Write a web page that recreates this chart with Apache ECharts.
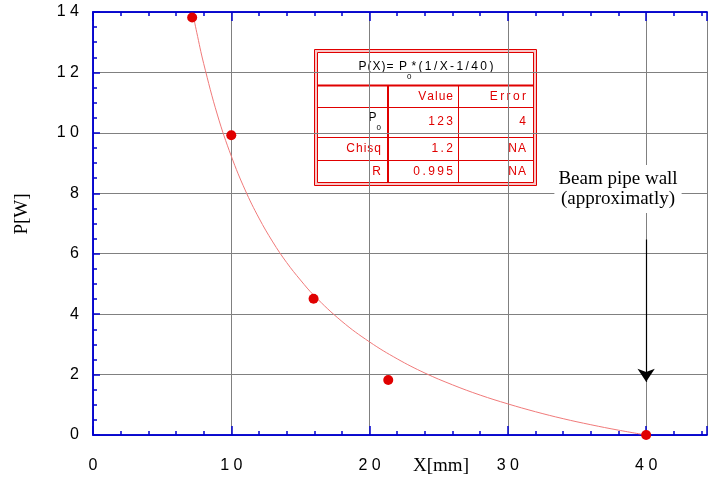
<!DOCTYPE html>
<html><head><meta charset="utf-8">
<script src="https://cdn.jsdelivr.net/npm/echarts@6/dist/echarts.min.js"></script>
<style>html,body{margin:0;padding:0;background:#fff}#c{width:710px;height:483px}</style>
</head><body><div id="c"></div>
<script>
// ---- data ----
const pointX = [7.17, 10.0, 15.95, 21.35, 40.0];
const pointY = [13.82, 9.92, 4.51, 1.82, 0.0];
const curveX = [7.25, 7.5, 8, 9, 10, 11, 12, 13, 14, 15, 16, 18, 20, 22, 24, 26, 28, 30, 32, 34, 36, 38, 40];
const curveY = [13.89, 13.33, 12.30, 10.59, 9.23, 8.11, 7.18, 6.39, 5.71, 5.13, 4.61, 3.76, 3.08, 2.52, 2.05, 1.66, 1.32, 1.03, 0.77, 0.54, 0.34, 0.16, 0];
const xTickValues = [0, 10, 20, 30, 40];
const xTickLabels = ['0', '10', '20', '30', '40'];
const yTickValues = [0, 2, 4, 6, 8, 10, 12, 14];
const yTickLabels = ['0', '2', '4', '6', '8', '10', '12', '14'];
const xName = 'X[mm]';
const yName = 'P[W]';
const fitTitleMain = 'P(X)= P';
const fitTitleSub = '0';
const fitTitleRest = '*(1/X-1/40)';
const tableHeader = ['', 'Value', 'Error'];
const tableRowNames = ['P', 'Chisq', 'R'];
const tableRowSubs = ['0', '', ''];
const tableValues = ['123', '1.2', '0.995'];
const tableErrors = ['4', 'NA', 'NA'];
const annotationText = ['Beam pipe wall', '(approximatly)'];
const arrowX = 40, arrowFromY = 6.47, arrowToY = 1.76;

// ---- styling ----
const BLUE = '#0000d0', GRID = '#808080', RED = '#e00000';
const SANS = '"Liberation Sans", Arial, sans-serif';
const SERIF = '"Liberation Serif", "Times New Roman", serif';
const GAP = ' ', THIN = '\u2009', HAIR = '\u200A';
const sp = (s, ch) => s.split('').join(ch);

const XMAX = 44.4;
function xAxisDef(pos, interval, tickLen, withLabels, split) {
  return {
    type: 'value', position: pos, min: 0, max: XMAX, interval: interval,
    axisLine: { show: true, onZero: false, lineStyle: { color: BLUE, width: 1.5 } },
    axisTick: { show: true, inside: true, length: tickLen, lineStyle: { color: BLUE, width: 1.5 } },
    axisLabel: withLabels ? {
      show: true, margin: 23, color: '#000', fontSize: 16, fontFamily: SANS,
      formatter: v => { const i = xTickValues.indexOf(v); return i >= 0 ? sp(xTickLabels[i], GAP) : ''; }
    } : { show: false },
    splitLine: { show: split, lineStyle: { color: GRID, width: 1 } }
  };
}
function yAxisDef(interval, tickLen, withLabels, split) {
  return {
    type: 'value', position: 'left', min: 0, max: 14, interval: interval,
    axisLine: { show: true, onZero: false, lineStyle: { color: BLUE, width: 1.5 } },
    axisTick: { show: true, inside: true, length: tickLen, lineStyle: { color: BLUE, width: 1.5 } },
    axisLabel: withLabels ? {
      show: true, margin: 14, color: '#000', fontSize: 16, fontFamily: SANS,
      formatter: v => { const i = yTickValues.indexOf(v); return i >= 0 ? sp(yTickLabels[i], GAP) : ''; }
    } : { show: false },
    splitLine: { show: split, lineStyle: { color: GRID, width: 1 } }
  };
}

// ---- fit table (graphic) ----
const T = { x0: 314, y0: 49, x1: 536, y1: 185 };
const rowY = [85.5, 107, 137.5, 160.5, 182];
const colX = [317, 388, 458, 533];
const tfont = '12px ' + SANS;
const richP = {
  a: { fontSize: 12, fontFamily: SANS, color: RED, padding: [0, 0, 10, 0] },
  s: { fontSize: 8, fontFamily: SANS, color: RED, padding: [10, 0, 0, 0] }
};
const tableEls = [
  { type: 'rect', shape: { x: T.x0 + 0.5, y: T.y0 + 0.5, width: T.x1 - T.x0, height: T.y1 - T.y0 }, style: { fill: '#f9c8c8', stroke: RED, lineWidth: 1 } },
  { type: 'rect', shape: { x: T.x0 + 3.5, y: T.y0 + 3.5, width: T.x1 - T.x0 - 6, height: T.y1 - T.y0 - 6 }, style: { fill: '#fff', stroke: RED, lineWidth: 1 } },
  { type: 'line', shape: { x1: colX[0], y1: rowY[0], x2: colX[3], y2: rowY[0] }, style: { stroke: RED, lineWidth: 2 } },
  { type: 'line', shape: { x1: colX[0], y1: rowY[1] + 0.5, x2: colX[3], y2: rowY[1] + 0.5 }, style: { stroke: RED, lineWidth: 1 } },
  { type: 'line', shape: { x1: colX[0], y1: rowY[2], x2: colX[3], y2: rowY[2] }, style: { stroke: RED, lineWidth: 1 } },
  { type: 'line', shape: { x1: colX[0], y1: rowY[3], x2: colX[3], y2: rowY[3] }, style: { stroke: RED, lineWidth: 1 } },
  { type: 'line', shape: { x1: colX[1], y1: rowY[0], x2: colX[1], y2: rowY[4] }, style: { stroke: RED, lineWidth: 2 } },
  { type: 'line', shape: { x1: colX[2] + 0.5, y1: rowY[0], x2: colX[2] + 0.5, y2: rowY[4] }, style: { stroke: RED, lineWidth: 1 } },
  { type: 'text', style: { text: '{a|' + sp(fitTitleMain, HAIR) + '}{s|' + fitTitleSub + '}{a|' + sp(fitTitleRest, THIN) + '}', rich: richP, x: 426, y: 72, align: 'center', verticalAlign: 'middle' } },
  { type: 'text', style: { text: sp(tableHeader[1], HAIR), x: 453, y: 96.5, align: 'right', verticalAlign: 'middle', font: tfont, fill: RED } },
  { type: 'text', style: { text: sp(tableHeader[2], THIN), x: 526, y: 96.5, align: 'right', verticalAlign: 'middle', font: tfont, fill: RED } }
];
const rowCenters = [122.5, 149, 171.5];
for (let i = 0; i < tableRowNames.length; i++) {
  const yc = rowCenters[i];
  if (tableRowSubs[i]) {
    tableEls.push({ type: 'text', style: { text: '{a|' + tableRowNames[i] + '}{s|' + tableRowSubs[i] + '}', rich: richP, x: 381, y: yc, align: 'right', verticalAlign: 'middle' } });
  } else {
    tableEls.push({ type: 'text', style: { text: sp(tableRowNames[i], HAIR), x: 381, y: yc, align: 'right', verticalAlign: 'middle', font: tfont, fill: RED } });
  }
  const vy = i === 0 ? 122 : yc;
  tableEls.push({ type: 'text', style: { text: sp(tableValues[i], THIN), x: 453, y: vy, align: 'right', verticalAlign: 'middle', font: tfont, fill: RED } });
  tableEls.push({ type: 'text', style: { text: sp(tableErrors[i], HAIR), x: 526, y: vy, align: 'right', verticalAlign: 'middle', font: tfont, fill: RED } });
}

const chart = echarts.init(document.getElementById('c'), null, { renderer: 'canvas' });
chart.setOption({
  animation: false,
  backgroundColor: '#fff',
  grid: { left: 93, right: 0, top: 12, bottom: 48, containLabel: false },
  xAxis: [
    xAxisDef('bottom', 2, 4, false, false),
    xAxisDef('bottom', 10, 9, true, true),
    xAxisDef('top', 2, 4, false, false),
    xAxisDef('top', 10, 9, false, false)
  ],
  yAxis: [
    yAxisDef(0.5, 4, false, false),
    yAxisDef(2, 7, true, true)
  ],
  series: [
    {
      type: 'line', xAxisIndex: 0, yAxisIndex: 0, smooth: 0.4, showSymbol: false, symbol: 'none',
      data: curveX.map((x, i) => [x, curveY[i]]),
      lineStyle: { color: '#f07a7a', width: 1 }, silent: true, z: 3,
      markLine: {
        silent: true, symbol: ['none', 'arrow'], symbolSize: 13,
        lineStyle: { color: '#000', width: 1.2, type: 'solid' },
        label: { show: false },
        data: [[{ coord: [arrowX, arrowFromY] }, { coord: [arrowX, arrowToY] }]]
      }
    },
    {
      type: 'scatter', xAxisIndex: 0, yAxisIndex: 0, symbolSize: 10,
      data: pointX.map((x, i) => [x, pointY[i]]),
      itemStyle: { color: RED, opacity: 1 }, z: 4, clip: false
    }
  ],
  graphic: [
    { type: 'group', z: 100, children: tableEls },
    { type: 'text', z: 100, x: 618, y: 189, style: { text: annotationText.join('\n'), align: 'center', verticalAlign: 'middle', font: '19px ' + SERIF, lineHeight: 20, fill: '#000', backgroundColor: '#fff', padding: [4, 4] } },
    { type: 'text', z: 100, x: 441, y: 466, style: { text: xName, align: 'center', verticalAlign: 'middle', font: '19px ' + SERIF, fill: '#000' } },
    { type: 'text', z: 100, x: 22, y: 214, rotation: Math.PI / 2, style: { text: yName, x: 0, y: 0, align: 'center', verticalAlign: 'middle', font: '19px ' + SERIF, fill: '#000' } }
  ]
});
</script>
</body></html>
